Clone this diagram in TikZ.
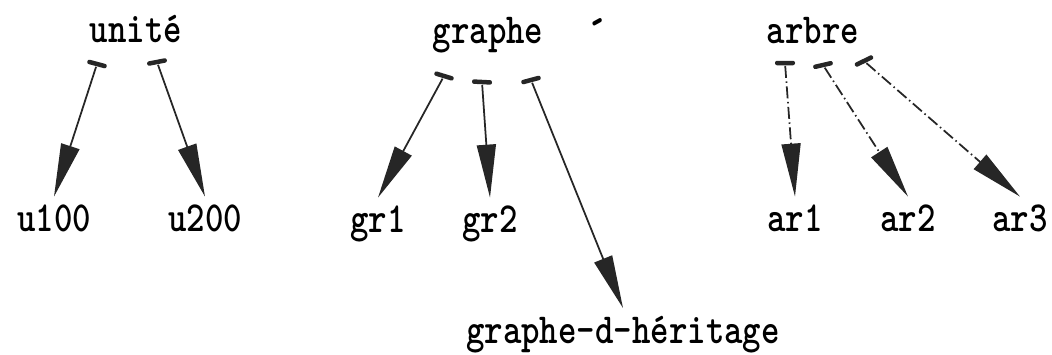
\documentclass[tikz,border=0pt]{standalone}
\usetikzlibrary{arrows.meta}
\newcommand{\tall}[1]{\scalebox{1}[1.22]{#1}}
\begin{document}
\begin{tikzpicture}[x=0.1mm, y=-0.1mm,
		lbl/.style={font=\ttfamily\bfseries, inner xsep=1pt, inner ysep=2pt, anchor=base},
		tk/.style={fill=black!85, minimum width=2mm, minimum height=0.45mm, inner sep=0pt, rounded corners=0.2mm},
		ar/.style={-{Triangle[length=5.3mm, width=1.9mm]}, line width=0.5pt, draw=black!85},
		ard/.style={ar, dash pattern=on 1.2mm off 0.35mm on 0.15mm off 0.35mm}
		]
		\useasboundingbox (0,0) rectangle (1052,354);

		\node[lbl] (unite) at (136,42) {\tall{unité}};
		\node[tk, rotate=-15] (ut1) at (97,64) {};
		\node[tk, rotate=11] (ut2) at (157,62) {};
		\node[lbl] (u100) at (54,231) {\tall{u100}};
		\node[lbl] (u200) at (205,231) {\tall{u200}};
		\draw[ar] (ut1) -- (u100.north);
		\draw[ar] (ut2) -- (u200.north);

		\node[lbl] (graphe) at (488,43) {\tall{graphe}};
		\node[lbl, scale=1.2] (acc) at (598,50) {\tall{´}};
		\node[tk, rotate=-17] (gt1) at (444,76) {};
		\node[tk, rotate=-3] (gt2) at (482,82) {};
		\node[tk, rotate=15] (gt3) at (531,80) {};
		\node[lbl] (gr1) at (378,232) {\tall{gr1}};
		\node[lbl] (gr2) at (490,232) {\tall{gr2}};
		\node[lbl] (gdh) at (623,343) {\tall{graphe-d-héritage}};
		\draw[ar] (gt1) -- (gr1.north);
		\draw[ar] (gt2) -- (gr2.north);
		\draw[ar] (gt3) -- (gdh.north);

		\node[lbl] (arbre) at (813,43) {\tall{arbre}};
		\node[tk] (at1) at (785,63) {};
		\node[tk, rotate=13] (at2) at (823,65) {};
		\node[tk, rotate=26] (at3) at (864,61) {};
		\node[lbl] (ar1) at (795,231) {\tall{ar1}};
		\node[lbl] (ar2) at (908,231) {\tall{ar2}};
		\node[lbl] (ar3) at (1020,231) {\tall{ar3}};
		\draw[ard] (at1) -- (ar1.north);
		\draw[ard] (at2) -- (ar2.north);
		\draw[ard] (at3) -- (ar3.north);
	\end{tikzpicture}
\end{document}
